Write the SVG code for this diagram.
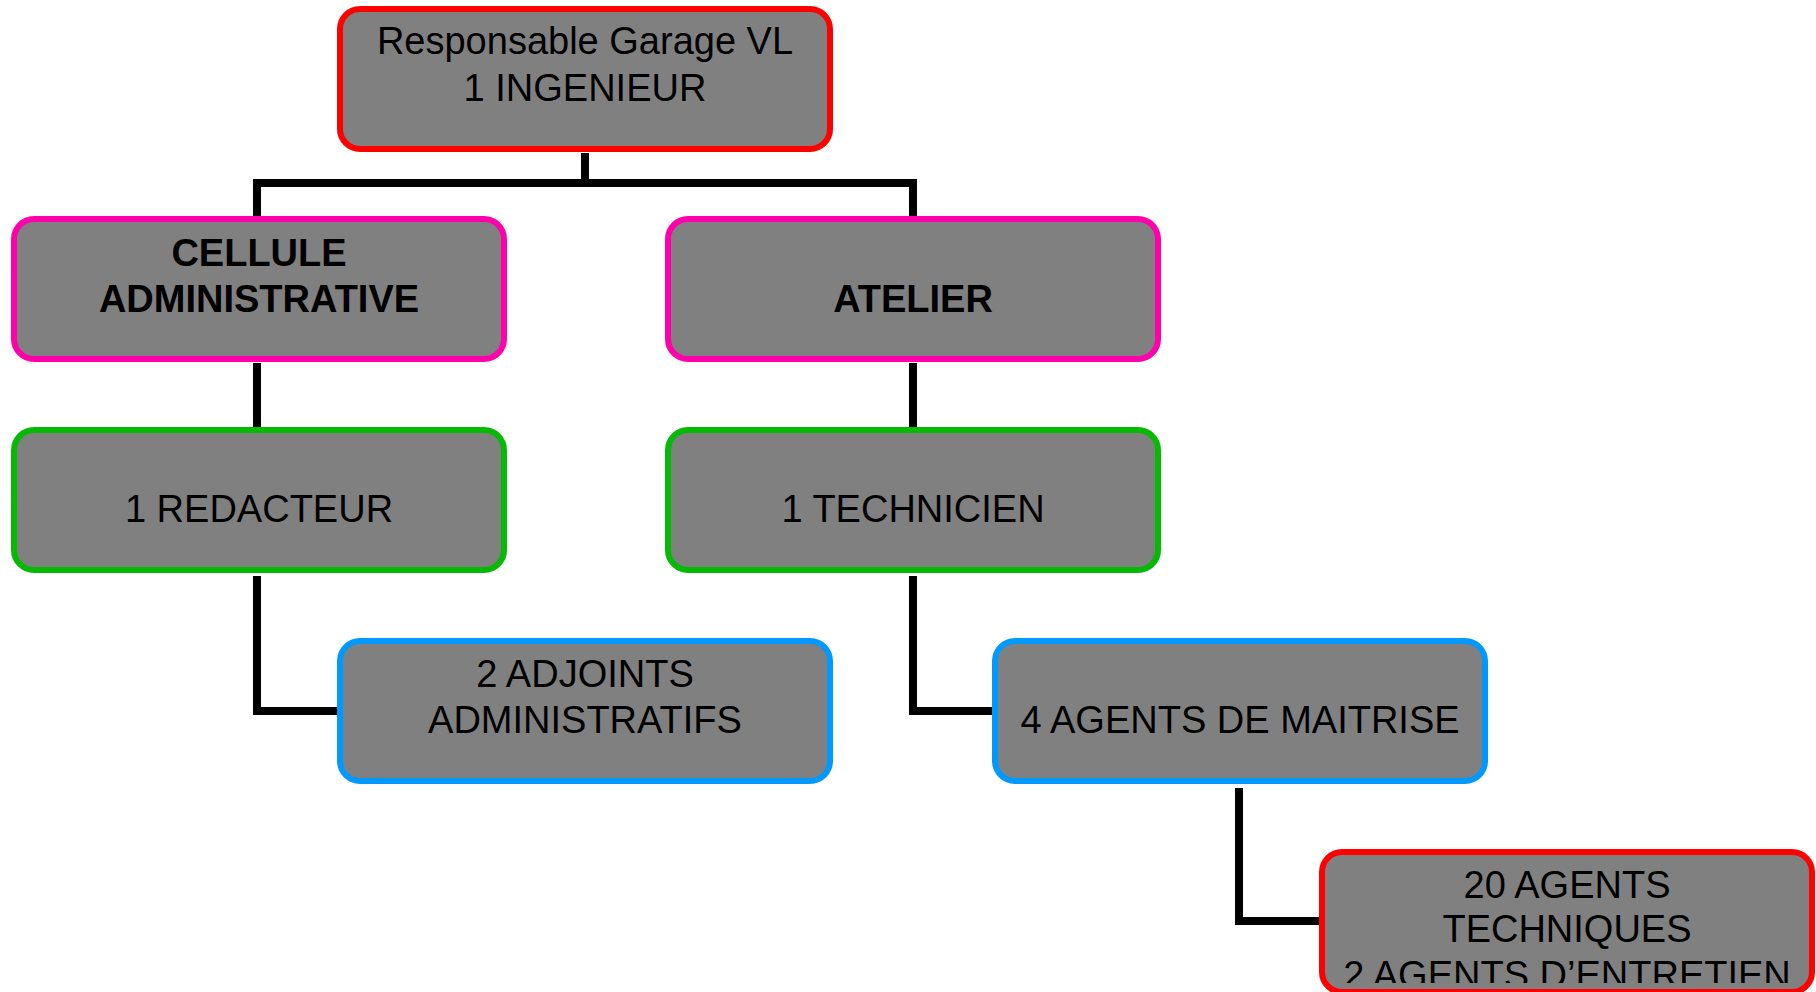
<svg xmlns="http://www.w3.org/2000/svg" width="1816" height="992" viewBox="0 0 1816 992">
<style>
.box{fill:#808080;stroke-width:6}
.red{stroke:#FF0000}
.mag{stroke:#FF00AA}
.grn{stroke:#05B905}
.blu{stroke:#0099FF}
text{font-family:"Liberation Sans",Arial,sans-serif;font-size:38px;fill:#000;text-anchor:middle}
.b{font-weight:bold}
.conn{fill:none;stroke:#000;stroke-width:8;stroke-linecap:butt;stroke-linejoin:miter}
</style>
<defs>
<clipPath id="clip5"><rect x="1322" y="852" width="490" height="131"/></clipPath>
</defs>
<rect width="1816" height="992" fill="#fff"/>
<g id="connectors">
<path class="conn" d="M585,153 V183"/>
<path class="conn" d="M257,217 V183 H913 V217"/>
<path class="conn" d="M257,363 V428"/>
<path class="conn" d="M913,363 V428"/>
<path class="conn" d="M257,576 V711 H338"/>
<path class="conn" d="M913,576 V711 H993"/>
<path class="conn" d="M1239,788 V921 H1320"/>
</g>
<g id="n-responsable">
<rect class="box red" x="340" y="9" width="490" height="140" rx="20"/>
<text x="585" y="54">Responsable Garage VL</text>
<text x="585" y="101">1 INGENIEUR</text>
</g>
<g id="n-cellule">
<rect class="box mag" x="14" y="219" width="490" height="140" rx="20"/>
<text class="b" x="259" y="266">CELLULE</text>
<text class="b" x="259" y="312">ADMINISTRATIVE</text>
</g>
<g id="n-atelier">
<rect class="box mag" x="668" y="219" width="490" height="140" rx="20"/>
<text class="b" x="913" y="312">ATELIER</text>
</g>
<g id="n-redacteur">
<rect class="box grn" x="14" y="430" width="490" height="140" rx="20"/>
<text x="259" y="522">1 REDACTEUR</text>
</g>
<g id="n-technicien">
<rect class="box grn" x="668" y="430" width="490" height="140" rx="20"/>
<text x="913" y="522">1 TECHNICIEN</text>
</g>
<g id="n-adjoints">
<rect class="box blu" x="340" y="641" width="490" height="140" rx="20"/>
<text x="585" y="687">2 ADJOINTS</text>
<text x="585" y="733">ADMINISTRATIFS</text>
</g>
<g id="n-maitrise">
<rect class="box blu" x="995" y="641" width="490" height="140" rx="20"/>
<text x="1240" y="733">4 AGENTS DE MAITRISE</text>
</g>
<g id="n-agents">
<rect class="box red" x="1322" y="852" width="490" height="140" rx="20"/>
<g clip-path="url(#clip5)">
<text x="1567" y="898">20 AGENTS</text>
<text x="1567" y="942">TECHNIQUES</text>
<text x="1567" y="988">2 AGENTS D’ENTRETIEN</text>
</g>
</g>
</svg>
